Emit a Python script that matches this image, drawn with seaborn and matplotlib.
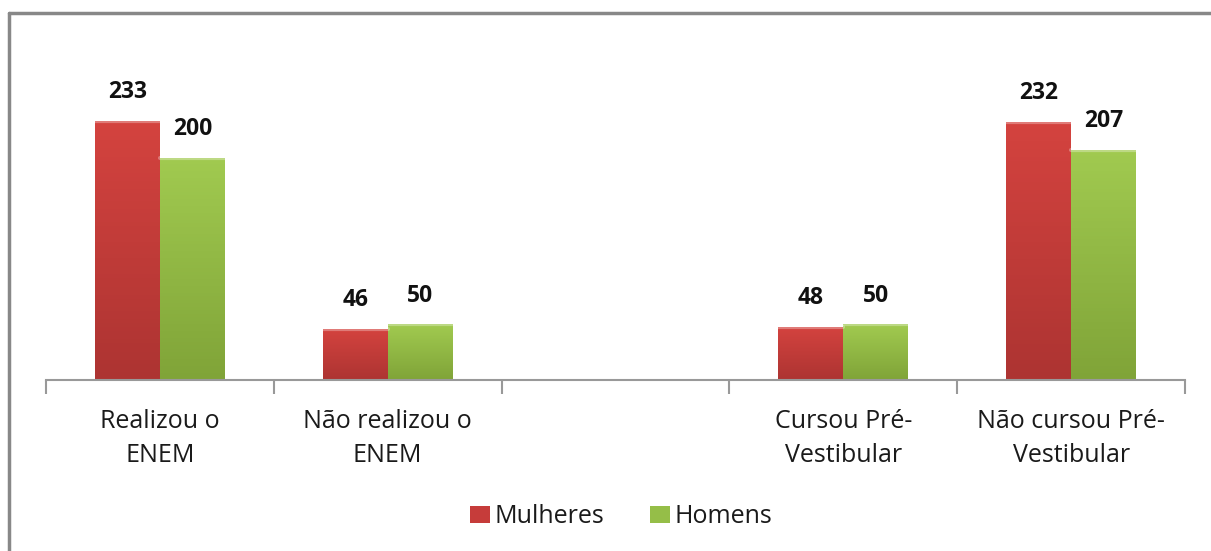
import numpy as np
import pandas as pd
import matplotlib.pyplot as plt
import seaborn as sns
from matplotlib.colors import LinearSegmentedColormap
from matplotlib.lines import Line2D
from matplotlib.patches import Patch

categorias = ["Realizou o\nENEM", "Não realizou o\nENEM", " ",
              "Cursou Pré-\nVestibular", "Não cursou Pré-\nVestibular"]
mulheres = [233, 46, np.nan, 48, 232]
homens = [200, 50, np.nan, 50, 207]
series = ["Mulheres", "Homens"]

df = pd.DataFrame({
    "categoria": categorias * 2,
    "valor": mulheres + homens,
    "sexo": ["Mulheres"] * 5 + ["Homens"] * 5,
})

sns.set_theme(style="white")
plt.rcParams["font.family"] = ["Open Sans", "DejaVu Sans"]

cores = {"Mulheres": "#C63C3A", "Homens": "#95BE48"}
grad = {"Mulheres": ("#D4433F", "#AD3432"), "Homens": ("#A1CA50", "#80A438")}

fig = plt.figure(figsize=(12.11, 5.51), dpi=100)
ax = fig.add_axes([0.038, 0.3103, 0.9405, 0.5046])

sns.barplot(data=df, x="categoria", y="valor", hue="sexo", order=categorias,
            hue_order=series, palette=cores, width=0.57, ax=ax,
            edgecolor="none", legend=False)

# gradient fill, like the bevelled Excel bars
for cont, nome in zip(ax.containers, series):
    cmap = LinearSegmentedColormap.from_list(nome, [grad[nome][0], grad[nome][1]])
    for bar in cont:
        h = bar.get_height()
        if not np.isfinite(h) or h == 0:
            continue
        x0, w = bar.get_x(), bar.get_width()
        img = ax.imshow(np.linspace(0, 1, 64).reshape(-1, 1), cmap=cmap, aspect="auto",
                        extent=[x0, x0 + w, 0, h], origin="upper", zorder=bar.get_zorder())
        img.set_clip_path(bar)
        ax.add_line(Line2D([x0, x0 + w], [h, h], color="#ffffff", alpha=0.3, lw=3))
    ax.bar_label(cont, labels=["" if not np.isfinite(v) else f"{int(v)}" for v in cont.datavalues],
                 padding=12, fontsize=16.5, fontweight="bold", color="#111111")
ax.set_ylim(0, 250)
ax.set_xlim(-0.5, 4.5)

for s in ["top", "right", "left"]:
    ax.spines[s].set_visible(False)
ax.spines["bottom"].set_color("#999999")
ax.spines["bottom"].set_linewidth(1.5)
ax.set_yticks([])
ax.set_xlabel("")
ax.set_ylabel("")
ax.set_xticks(range(5))
ax.set_xticklabels(categorias, fontsize=18, color="#1a1a1a", linespacing=1.45)
ax.tick_params(axis="x", length=0, pad=21)
ax.set_xticks(np.arange(-0.5, 5, 1), minor=True)
ax.tick_params(axis="x", which="minor", length=10, width=1.5, color="#999999", direction="out")
ax.xaxis.set_tick_params(which="minor", bottom=True)

handles = [Patch(facecolor=cores[s], edgecolor="none") for s in series]
fig.legend(handles, series, loc="center", bbox_to_anchor=(0.513, 0.062), ncol=2,
           frameon=False, fontsize=18, handlelength=0.8, handleheight=0.7,
           handletextpad=0.2, columnspacing=1.8, labelcolor="#1a1a1a")

# chart-area border (only left and top visible in the crop)
fig.add_artist(Line2D([0.0078, 0.0078], [0, 0.977], transform=fig.transFigure,
                      color="#888888", lw=2.5))
fig.add_artist(Line2D([0.0078, 1], [0.977, 0.977], transform=fig.transFigure,
                      color="#888888", lw=2.5))

fig.savefig("out.png", dpi=100)
